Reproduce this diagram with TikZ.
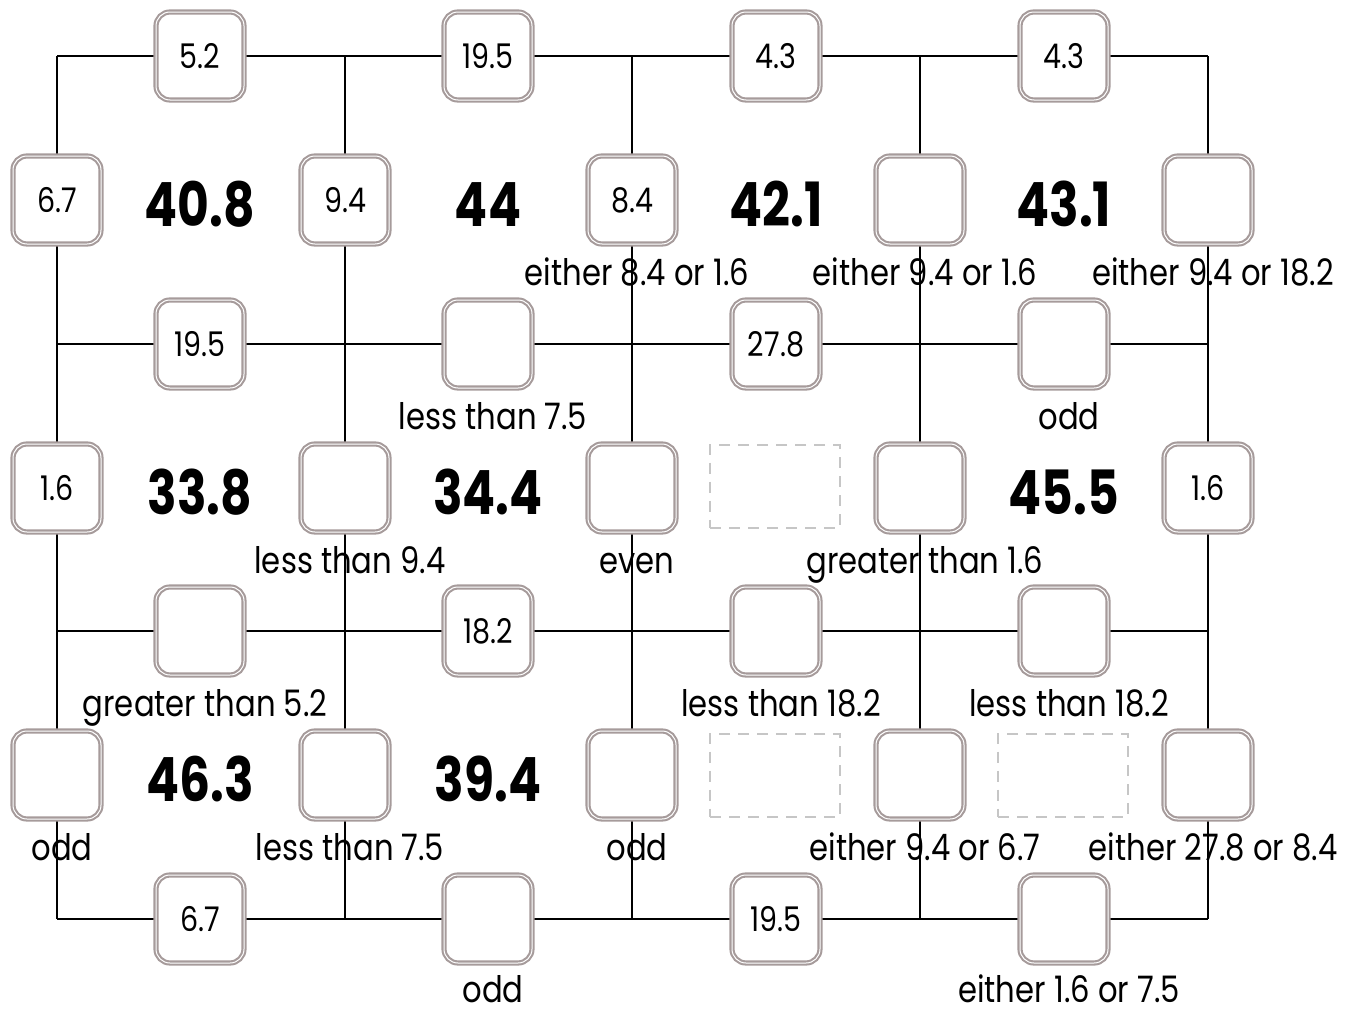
\documentclass[tikz,border=0pt]{standalone}
\usepackage{fontspec}
\setmainfont{Poppins}[FakeStretch=0.84]
\newfontfamily\bigfont{Poppins}[FakeStretch=0.8]
\definecolor{boxgray}{HTML}{A69B9B}
\definecolor{dashgray}{HTML}{C6C6C6}
\begin{document}
\begin{tikzpicture}[x=1pt,y=-1pt,
  gridline/.style={line width=2.6pt, black},
  cellbox/.style={draw=boxgray, double=white, double distance=1pt, line width=2.1pt,
    fill=white, rounded corners=14pt, minimum width=88pt, minimum height=88pt,
    inner sep=0pt, font=\fontsize{34}{34}\selectfont},
  hint/.style={anchor=base, inner sep=0pt, text depth=0pt, font=\fontsize{36.5}{36.5}\selectfont},
  total/.style={anchor=base, inner sep=0pt, font=\bigfont\fontsize{61}{61}\selectfont\bfseries},
  slot/.style={draw=dashgray, dash pattern=on 11pt off 8pt, line width=2pt,
    minimum width=130pt, minimum height=83pt, inner sep=0pt}]
\useasboundingbox (0,0) rectangle (1360,1009);
% grid corners
\foreach \i/\x in {1/57,2/345,3/632,4/920,5/1208}
  \foreach \j/\y in {1/56,2/344,3/631,4/919}
    \coordinate (g-\i-\j) at (\x,\y);
\foreach \j in {1,2,3,4} \draw[gridline] (g-1-\j) -- (g-5-\j);
\foreach \i in {1,2,3,4,5} \draw[gridline] (g-\i-1) -- (g-\i-4);
% row 1 (y=56)
\node[cellbox] (b1-1) at (200,56) {5.2};
\node[cellbox] (b1-2) at (488,56) {19.5};
\node[cellbox] (b1-3) at (776,56) {4.3};
\node[cellbox] (b1-4) at (1064,56) {4.3};
% row 2 (y=200)
\node[cellbox] (b2-1) at (57,200) {6.7};
\node[cellbox] (b2-2) at (345,200) {9.4};
\node[cellbox] (b2-3) at (632,200) {8.4};
\node[cellbox] (b2-4) at (920,200) {};
\node[cellbox] (b2-5) at (1208,200) {};
% row 3 (y=344)
\node[cellbox] (b3-1) at (200,344) {19.5};
\node[cellbox] (b3-2) at (488,344) {};
\node[cellbox] (b3-3) at (776,344) {27.8};
\node[cellbox] (b3-4) at (1064,344) {};
% row 4 (y=488)
\node[cellbox] (b4-1) at (57,488) {1.6};
\node[cellbox] (b4-2) at (345,488) {};
\node[cellbox] (b4-3) at (632,488) {};
\node[cellbox] (b4-4) at (920,488) {};
\node[cellbox] (b4-5) at (1208,488) {1.6};
% row 5 (y=631)
\node[cellbox] (b5-1) at (200,631) {};
\node[cellbox] (b5-2) at (488,631) {18.2};
\node[cellbox] (b5-3) at (776,631) {};
\node[cellbox] (b5-4) at (1064,631) {};
% row 6 (y=775)
\node[cellbox] (b6-1) at (57,775) {};
\node[cellbox] (b6-2) at (345,775) {};
\node[cellbox] (b6-3) at (632,775) {};
\node[cellbox] (b6-4) at (920,775) {};
\node[cellbox] (b6-5) at (1208,775) {};
% row 7 (y=919)
\node[cellbox] (b7-1) at (200,919) {6.7};
\node[cellbox] (b7-2) at (488,919) {};
\node[cellbox] (b7-3) at (776,919) {19.5};
\node[cellbox] (b7-4) at (1064,919) {};
% dashed slots
\node[slot] (s1) at (775,486) {};
\node[slot] (s2) at (775,775) {};
\node[slot] (s3) at (1063,775) {};
% totals
\node[total] (t1) at (200,226) {40.8};
\node[total] (t2) at (488,226) {44};
\node[total] (t3) at (776,226) {42.1};
\node[total] (t4) at (1064,226) {43.1};
\node[total] (t5) at (200,514) {33.8};
\node[total] (t6) at (488,514) {34.4};
\node[total] (t7) at (1064,514) {45.5};
\node[total] (t8) at (200,801) {46.3};
\node[total] (t9) at (488,801) {39.4};
% hints
\node[hint] (h2-3) at ([shift={(5,85)}]b2-3.center) {either 8.4 or 1.6};
\node[hint] (h2-4) at ([shift={(5,85)}]b2-4.center) {either 9.4 or 1.6};
\node[hint] (h2-5) at ([shift={(5,85)}]b2-5.center) {either 9.4 or 18.2};
\node[hint] (h3-2) at ([shift={(5,85)}]b3-2.center) {less than 7.5};
\node[hint] (h3-4) at ([shift={(5,85)}]b3-4.center) {odd};
\node[hint] (h4-2) at ([shift={(5,85)}]b4-2.center) {less than 9.4};
\node[hint] (h4-3) at ([shift={(5,85)}]b4-3.center) {even};
\node[hint] (h4-4) at ([shift={(5,85)}]b4-4.center) {greater than 1.6};
\node[hint] (h5-1) at ([shift={(5,85)}]b5-1.center) {greater than 5.2};
\node[hint] (h5-3) at ([shift={(5,85)}]b5-3.center) {less than 18.2};
\node[hint] (h5-4) at ([shift={(5,85)}]b5-4.center) {less than 18.2};
\node[hint] (h6-1) at ([shift={(5,85)}]b6-1.center) {odd};
\node[hint] (h6-2) at ([shift={(5,85)}]b6-2.center) {less than 7.5};
\node[hint] (h6-3) at ([shift={(5,85)}]b6-3.center) {odd};
\node[hint] (h6-4) at ([shift={(5,85)}]b6-4.center) {either 9.4 or 6.7};
\node[hint] (h6-5) at ([shift={(5,85)}]b6-5.center) {either 27.8 or 8.4};
\node[hint] (h7-2) at ([shift={(5,83)}]b7-2.center) {odd};
\node[hint] (h7-4) at ([shift={(5,83)}]b7-4.center) {either 1.6 or 7.5};
\end{tikzpicture}
\end{document}
